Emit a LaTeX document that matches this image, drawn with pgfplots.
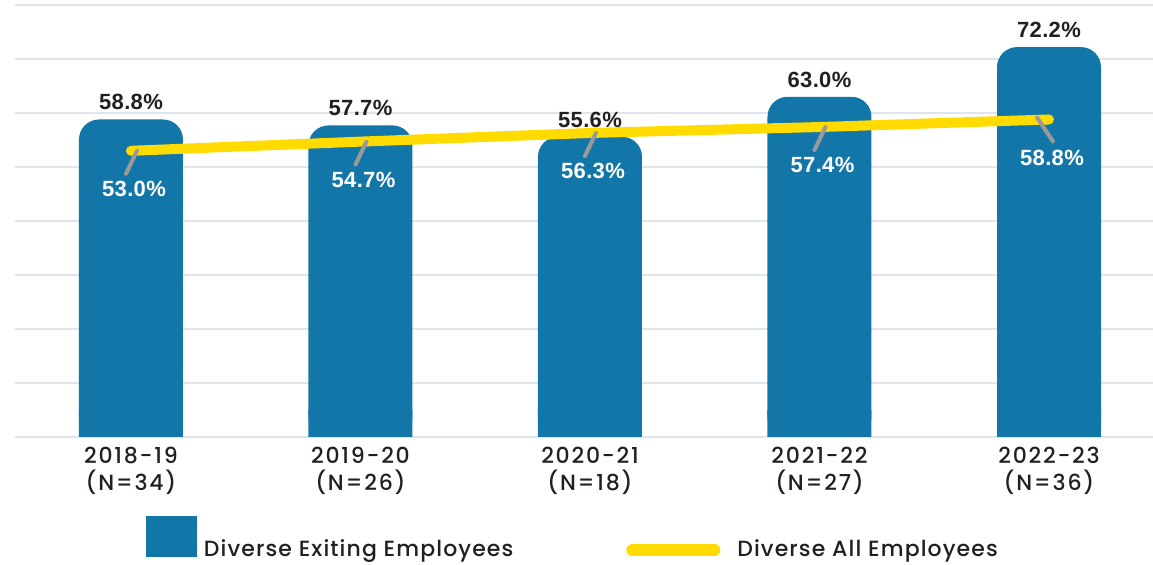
\documentclass[border=0pt]{standalone}
\usepackage{pgfplots}
\pgfplotsset{compat=1.18}
\usepackage{fontspec}
\setmainfont{Liberation Sans}
\newfontfamily\valfont[LetterSpace=1.5]{Liberation Sans Bold}
\newfontfamily\labfont[LetterSpace=5]{Poppins Medium}
\newfontfamily\tickfont[LetterSpace=8]{Poppins Medium}
\definecolor{barblue}{HTML}{1376A8}
\definecolor{lineyel}{HTML}{FFDB00}
\definecolor{gridc}{HTML}{E0E5EB}
\definecolor{txt}{HTML}{231F20}
\definecolor{leadgray}{HTML}{9A9A9A}
\pgfdeclareplotmark{leadL}{\pgfpathmoveto{\pgfqpoint{3pt}{0pt}}\pgfpathlineto{\pgfqpoint{-2.5pt}{-11.5pt}}\pgfusepathqstroke}
\pgfdeclareplotmark{leadR}{\pgfpathmoveto{\pgfqpoint{-6pt}{1pt}}\pgfpathlineto{\pgfqpoint{2pt}{-11pt}}\pgfusepathqstroke}
\begin{document}
\begin{tikzpicture}
\useasboundingbox (-7.5pt,-64pt) rectangle (569pt,218.5pt);
\begin{axis}[
  anchor=south west, at={(0pt,0pt)},
  scale only axis, width=569pt, height=216pt,
  xmin=-0.5054, xmax=4.4532, ymin=0, ymax=80,
  clip=false,
  axis line style={draw=none},
  tick style={draw=none},
  ytick={0,10,...,80}, yticklabels={},
  ymajorgrids, grid style={gridc, line width=1pt},
  xtick={0,1,2,3,4},
  xticklabels={{2018-19\\(N=34)},{2019-20\\(N=26)},{2020-21\\(N=18)},{2021-22\\(N=27)},{2022-23\\(N=36)}},
  xticklabel style={anchor=north, inner sep=0pt, yshift=-5pt, align=center,
    font=\tickfont\fontsize{11}{13.5}\selectfont, text=txt},
  legend columns=2,
  legend style={draw=none, fill=none, inner sep=0pt, outer sep=0pt,
    at={(axis description cs:0.1151,-0.18287)}, anchor=north west,
    cells={anchor=base west},
    nodes={inner sep=0pt, text depth=0pt},
    font=\labfont\fontsize{11}{13.5}\selectfont, text=txt,
    /tikz/every odd column/.append style={column sep=3.5pt},
    /tikz/every even column/.append style={column sep=54pt}},
]
\addplot[ybar, bar width=52pt, bar shift=0pt, fill=barblue, draw=none, rounded corners=10pt,
  nodes near coords={\pgfmathprintnumber[fixed,fixed zerofill,precision=1,assume math mode=true]{\pgfplotspointmeta}\%},
  every node near coord/.append style={anchor=south, inner sep=0pt, yshift=4.5pt,
    font=\valfont\fontsize{11}{13}\selectfont, text=txt},
  legend image code/.code={\fill[barblue, sharp corners] (0pt,0pt) rectangle (25.5pt,20.5pt);}]
  coordinates {(0,58.8) (1,57.7) (2,55.6) (3,63.0) (4,72.2)};
\addlegendentry{Diverse Exiting Employees}
\addplot[ybar, bar width=52pt, bar shift=0pt, fill=barblue, draw=none, forget plot]
  coordinates {(0,5) (1,5) (2,5) (3,5) (4,5)};
\addplot[lineyel, line width=5pt, line cap=round, line join=round, mark=none,
  nodes near coords={\pgfmathprintnumber[fixed,fixed zerofill,precision=1,assume math mode=true]{\pgfplotspointmeta}\%},
  every node near coord/.append style={anchor=center, inner sep=0pt, yshift=-19pt, xshift=1.5pt,
    font=\valfont\fontsize{11}{13}\selectfont, text=white},
  legend image code/.code={\path (0pt,0pt) (49.5pt,0pt); \draw[lineyel, line width=6pt, line cap=round] (3pt,3.5pt) -- (44pt,3.5pt);}]
  coordinates {(0,53.0) (1,54.7) (2,56.3) (3,57.4) (4,58.8)};
\addlegendentry{Diverse All Employees}
\addplot[only marks, mark=leadL, mark options={draw=leadgray, line width=2pt, line cap=round}, forget plot]
  coordinates {(0,53.0) (1,54.7) (2,56.3) (3,57.4)};
\addplot[only marks, mark=leadR, mark options={draw=leadgray, line width=2pt, line cap=round}, forget plot]
  coordinates {(4,58.8)};
\end{axis}
\end{tikzpicture}
\end{document}
